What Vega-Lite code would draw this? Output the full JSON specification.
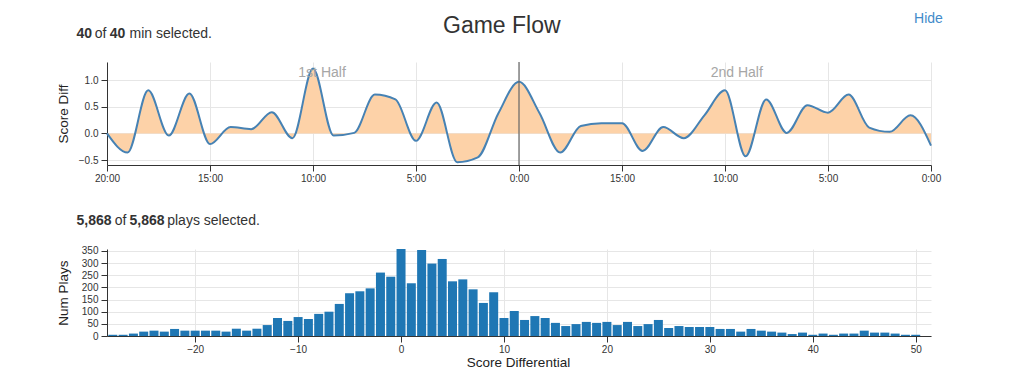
{
  "$schema": "https://vega.github.io/schema/vega-lite/v6.json",
  "background": "white",
  "padding": {"left": 56, "top": 11, "right": 5, "bottom": 5},
  "bounds": "flush",
  "spacing": 84,
  "config": {
    "font": "Liberation Sans",
    "view": {"stroke": null},
    "axis": {
      "domainColor": "#333",
      "tickColor": "#333",
      "labelColor": "#333",
      "labelFontSize": 10,
      "labelFont": "Liberation Sans",
      "gridColor": "#e6e6e6",
      "tickSize": 6,
      "labelPadding": 2,
      "titleFont": "Liberation Sans",
      "titleFontWeight": "normal",
      "titleColor": "#222",
      "titleFontSize": 13.5
    }
  },
  "vconcat": [
    {
      "width": 824,
      "height": 103,
      "data": {
        "values": [
          {"minute": 0, "diff": 0.0}, {"minute": 1, "diff": -0.36}, {"minute": 2, "diff": 0.81},
          {"minute": 3, "diff": -0.04}, {"minute": 4, "diff": 0.75}, {"minute": 5, "diff": -0.2},
          {"minute": 6, "diff": 0.12}, {"minute": 7, "diff": 0.08}, {"minute": 8, "diff": 0.4},
          {"minute": 9, "diff": -0.09}, {"minute": 10, "diff": 1.22}, {"minute": 11, "diff": -0.04},
          {"minute": 12, "diff": 0.01}, {"minute": 13, "diff": 0.73}, {"minute": 14, "diff": 0.64},
          {"minute": 15, "diff": -0.14}, {"minute": 16, "diff": 0.58}, {"minute": 17, "diff": -0.54},
          {"minute": 18, "diff": -0.45}, {"minute": 19, "diff": 0.38}, {"minute": 20, "diff": 0.97},
          {"minute": 21, "diff": 0.38}, {"minute": 22, "diff": -0.36}, {"minute": 23, "diff": 0.14},
          {"minute": 24, "diff": 0.19}, {"minute": 25, "diff": 0.19}, {"minute": 26, "diff": -0.33},
          {"minute": 27, "diff": 0.12}, {"minute": 28, "diff": -0.09}, {"minute": 29, "diff": 0.34},
          {"minute": 30, "diff": 0.81}, {"minute": 31, "diff": -0.43}, {"minute": 32, "diff": 0.64},
          {"minute": 33, "diff": 0.01}, {"minute": 34, "diff": 0.53}, {"minute": 35, "diff": 0.39},
          {"minute": 36, "diff": 0.73}, {"minute": 37, "diff": 0.11}, {"minute": 38, "diff": 0.03},
          {"minute": 39, "diff": 0.34}, {"minute": 40, "diff": -0.23}
        ]
      },
      "resolve": {"axis": {"x": "independent", "y": "independent"}},
      "layer": [
        {
          "mark": {"type": "area", "interpolate": "monotone", "color": "#fdd2a8", "opacity": 1},
          "encoding": {
            "x": {
              "field": "minute", "type": "quantitative",
              "scale": {"domain": [0, 40], "nice": false, "zero": false},
              "axis": {
                "values": [0, 5, 10, 15, 20, 25, 30, 35, 40],
                "labelExpr": "datum.value <= 20 ? (20 - datum.value) + ':00' : (40 - datum.value) + ':00'",
                "grid": true, "labelFlush": false,
                "title": "Game Flow", "titleX": 394.3, "titleY": -132.7, "titleAngle": 0,
                "titleAlign": "center", "titleBaseline": "alphabetic",
                "titleFontSize": 23, "titleColor": "#333"
              }
            },
            "y": {
              "field": "diff", "type": "quantitative",
              "scale": {"domain": [-0.594, 1.343], "nice": false, "zero": false},
              "axis": {
                "values": [-0.5, 0, 0.5, 1], "format": ".1f", "grid": true, "labelPadding": 3,
                "title": "Score Diff", "titleX": -39.7, "titleY": 51.5, "titleAngle": -90,
                "titleAlign": "center", "titleBaseline": "alphabetic"
              }
            },
            "y2": {"datum": 0}
          }
        },
        {
          "mark": {"type": "line", "interpolate": "monotone", "color": "#4682b4", "strokeWidth": 2},
          "encoding": {
            "x": {
              "field": "minute", "type": "quantitative",
              "axis": {
                "orient": "top", "labels": false, "ticks": false, "domain": false, "grid": false,
                "title": "40", "titleX": -31, "titleY": -24.7, "titleAngle": 0,
                "titleAlign": "left", "titleBaseline": "alphabetic",
                "titleFontSize": 14, "titleFontWeight": "bold", "titleColor": "#333"
              }
            },
            "y": {
              "field": "diff", "type": "quantitative",
              "axis": {
                "orient": "right", "labels": false, "ticks": false, "domain": false, "grid": false,
                "title": "Hide", "titleX": -3, "titleY": -39.3, "titleAngle": 0,
                "titleAlign": "center", "titleBaseline": "alphabetic",
                "titleFontSize": 14, "titleColor": "#428bca"
              }
            }
          }
        },
        {
          "data": {"values": [{"minute": 20}]},
          "mark": {"type": "rule", "color": "#666", "strokeWidth": 1.2},
          "encoding": {
            "x": {
              "field": "minute", "type": "quantitative",
              "axis": {
                "orient": "top", "labels": false, "ticks": false, "domain": false, "grid": false,
                "title": "of", "titleX": -12.7, "titleY": -24.7, "titleAngle": 0,
                "titleAlign": "left", "titleBaseline": "alphabetic",
                "titleFontSize": 14, "titleColor": "#333"
              }
            }
          }
        },
        {
          "data": {"values": [{"minute": 10.44, "label": "1st Half"}, {"minute": 30.57, "label": "2nd Half"}]},
          "mark": {"type": "text", "fontSize": 14, "color": "#a6a6a6", "baseline": "alphabetic", "align": "center"},
          "encoding": {
            "x": {
              "field": "minute", "type": "quantitative",
              "axis": {
                "orient": "top", "labels": false, "ticks": false, "domain": false, "grid": false,
                "title": "40", "titleX": 2.3, "titleY": -24.7, "titleAngle": 0,
                "titleAlign": "left", "titleBaseline": "alphabetic",
                "titleFontSize": 14, "titleFontWeight": "bold", "titleColor": "#333"
              }
            },
            "y": {
              "datum": 1.056, "type": "quantitative",
              "axis": {
                "orient": "right", "labels": false, "ticks": false, "domain": false, "grid": false,
                "title": "min selected.", "titleX": -802, "titleY": -24.7, "titleAngle": 0,
                "titleAlign": "left", "titleBaseline": "alphabetic",
                "titleFontSize": 14, "titleColor": "#333"
              }
            },
            "text": {"field": "label"}
          }
        }
      ]
    },
    {
      "width": 824,
      "height": 87,
      "data": {
        "values": [
          {"score": -28, "plays": 5}, {"score": -27, "plays": 5}, {"score": -26, "plays": 10},
          {"score": -25, "plays": 18}, {"score": -24, "plays": 22}, {"score": -23, "plays": 18},
          {"score": -22, "plays": 29}, {"score": -21, "plays": 22}, {"score": -20, "plays": 22},
          {"score": -19, "plays": 22}, {"score": -18, "plays": 22}, {"score": -17, "plays": 18},
          {"score": -16, "plays": 30}, {"score": -15, "plays": 22}, {"score": -14, "plays": 30},
          {"score": -13, "plays": 45}, {"score": -12, "plays": 74}, {"score": -11, "plays": 62},
          {"score": -10, "plays": 78}, {"score": -9, "plays": 70}, {"score": -8, "plays": 91},
          {"score": -7, "plays": 100}, {"score": -6, "plays": 132}, {"score": -5, "plays": 176},
          {"score": -4, "plays": 184}, {"score": -3, "plays": 196}, {"score": -2, "plays": 261},
          {"score": -1, "plays": 244}, {"score": 0, "plays": 358}, {"score": 1, "plays": 217},
          {"score": 2, "plays": 354}, {"score": 3, "plays": 298}, {"score": 4, "plays": 317},
          {"score": 5, "plays": 225}, {"score": 6, "plays": 233}, {"score": 7, "plays": 192},
          {"score": 8, "plays": 136}, {"score": 9, "plays": 180}, {"score": 10, "plays": 74},
          {"score": 11, "plays": 103}, {"score": 12, "plays": 66}, {"score": 13, "plays": 82},
          {"score": 14, "plays": 74}, {"score": 15, "plays": 54}, {"score": 16, "plays": 41},
          {"score": 17, "plays": 49}, {"score": 18, "plays": 58}, {"score": 19, "plays": 54},
          {"score": 20, "plays": 58}, {"score": 21, "plays": 45}, {"score": 22, "plays": 58},
          {"score": 23, "plays": 41}, {"score": 24, "plays": 49}, {"score": 25, "plays": 66},
          {"score": 26, "plays": 33}, {"score": 27, "plays": 41}, {"score": 28, "plays": 37},
          {"score": 29, "plays": 37}, {"score": 30, "plays": 37}, {"score": 31, "plays": 29},
          {"score": 32, "plays": 29}, {"score": 33, "plays": 18}, {"score": 34, "plays": 29},
          {"score": 35, "plays": 22}, {"score": 36, "plays": 18}, {"score": 37, "plays": 14},
          {"score": 38, "plays": 8}, {"score": 39, "plays": 14}, {"score": 40, "plays": 5},
          {"score": 41, "plays": 10}, {"score": 42, "plays": 5}, {"score": 43, "plays": 10},
          {"score": 44, "plays": 10}, {"score": 45, "plays": 22}, {"score": 46, "plays": 14},
          {"score": 47, "plays": 14}, {"score": 48, "plays": 10}, {"score": 49, "plays": 5},
          {"score": 50, "plays": 5}
        ]
      },
      "resolve": {"axis": {"x": "independent", "y": "independent"}},
      "layer": [
        {
          "mark": {"type": "bar", "color": "#1f77b4", "width": 9, "clip": true},
          "encoding": {
            "x": {
              "field": "score", "type": "quantitative",
              "scale": {"domain": [-28.08, 51], "nice": false, "zero": false},
              "axis": {
                "values": [-20, -10, 0, 10, 20, 30, 40, 50], "grid": true, "labelFlush": false,
                "title": "Score Differential", "titleX": 411, "titleY": 30, "titleAngle": 0,
                "titleAlign": "center", "titleBaseline": "alphabetic"
              }
            },
            "y": {
              "field": "plays", "type": "quantitative",
              "scale": {"domain": [0, 358], "nice": false},
              "axis": {
                "values": [0, 50, 100, 150, 200, 250, 300, 350], "grid": true, "labelPadding": 3,
                "title": "Num Plays", "titleX": -39.7, "titleY": 43.7, "titleAngle": -90,
                "titleAlign": "center", "titleBaseline": "alphabetic"
              }
            }
          }
        },
        {
          "data": {"values": []},
          "mark": {"type": "point", "opacity": 0},
          "encoding": {
            "x": {
              "field": "score", "type": "quantitative",
              "axis": {
                "orient": "top", "labels": false, "ticks": false, "domain": false, "grid": false,
                "title": "5,868", "titleX": -31, "titleY": -24.3, "titleAngle": 0,
                "titleAlign": "left", "titleBaseline": "alphabetic",
                "titleFontSize": 14, "titleFontWeight": "bold", "titleColor": "#333"
              }
            },
            "y": {
              "field": "plays", "type": "quantitative",
              "axis": {
                "orient": "right", "labels": false, "ticks": false, "domain": false, "grid": false,
                "title": "of", "titleX": -816.7, "titleY": -24.3, "titleAngle": 0,
                "titleAlign": "left", "titleBaseline": "alphabetic",
                "titleFontSize": 14, "titleColor": "#333"
              }
            }
          }
        },
        {
          "data": {"values": []},
          "mark": {"type": "point", "opacity": 0},
          "encoding": {
            "x": {
              "field": "score", "type": "quantitative",
              "axis": {
                "orient": "top", "labels": false, "ticks": false, "domain": false, "grid": false,
                "title": "5,868", "titleX": 22, "titleY": -24.3, "titleAngle": 0,
                "titleAlign": "left", "titleBaseline": "alphabetic",
                "titleFontSize": 14, "titleFontWeight": "bold", "titleColor": "#333"
              }
            },
            "y": {
              "field": "plays", "type": "quantitative",
              "axis": {
                "orient": "right", "labels": false, "ticks": false, "domain": false, "grid": false,
                "title": "plays selected.", "titleX": -764.3, "titleY": -24.3, "titleAngle": 0,
                "titleAlign": "left", "titleBaseline": "alphabetic",
                "titleFontSize": 14, "titleColor": "#333"
              }
            }
          }
        }
      ]
    }
  ]
}
